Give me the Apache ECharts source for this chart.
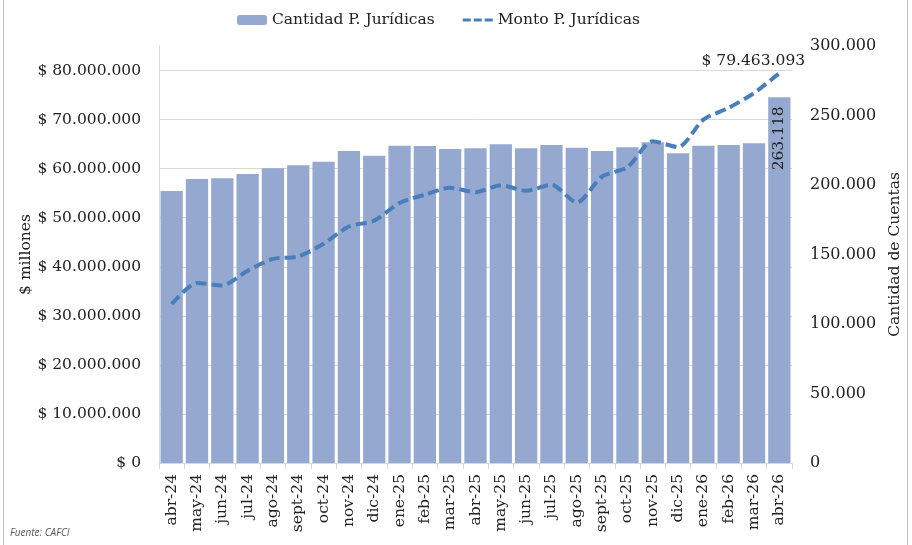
<!DOCTYPE html>
<html>
<head>
<meta charset="utf-8">
<script src="https://cdn.jsdelivr.net/npm/echarts@6/dist/echarts.min.js"></script>
<style>
  html, body { margin: 0; padding: 0; background: #fff; }
  #main { width: 912px; height: 545px; }
</style>
</head>
<body>
<div id="main"></div>
<script>
var meses = ['abr-24','may-24','jun-24','jul-24','ago-24','sept-24','oct-24','nov-24','dic-24','ene-25','feb-25','mar-25','abr-25','may-25','jun-25','jul-25','ago-25','sept-25','oct-25','nov-25','dic-25','ene-26','feb-26','mar-26','abr-26'];
// cantidad de cuentas (eje derecho)
var cantidad = [195700,204300,204800,207900,212000,214200,216800,224500,221100,228300,228000,225900,226400,229300,226400,228800,226800,224500,227100,230700,222800,228300,228800,230000,263118];
// monto en $ millones (eje izquierdo)
var monto = [32400000,36700000,36200000,39200000,41600000,42100000,44700000,48200000,49400000,53000000,54700000,56100000,55200000,56600000,55500000,56700000,53100000,58400000,60300000,65600000,64400000,70000000,72400000,75400000,79463093];

var serif = 'DejaVu Serif';
var txt = '#222';
var fs = 15.5;

function puntos(n) {
    return String(Math.round(n)).replace(/\B(?=(\d{3})+(?!\d))/g, '.');
}

var ultimo = meses.length - 1;
var barData = cantidad.map(function (v, i) {
    if (i !== ultimo) return v;
    return {
        value: v,
        label: {
            show: true, position: 'insideTop', rotate: 90, align: 'right', verticalAlign: 'middle',
            distance: 9, fontFamily: serif, fontSize: fs, color: txt,
            formatter: function (p) { return puntos(p.value); }
        }
    };
});
var lineData = monto.map(function (v, i) {
    if (i !== ultimo) return v;
    return {
        value: v,
        label: {
            show: true, position: 'top', offset: [-26, 1], fontFamily: serif, fontSize: fs, color: txt,
            formatter: function (p) { return '$ ' + puntos(p.value); }
        }
    };
});

var myChart = echarts.init(document.getElementById('main'));
var option = {
    animation: false,
    backgroundColor: '#fff',
    legend: {
        top: 7, left: 232,
        itemWidth: 30, itemHeight: 10, itemGap: 28,
        textStyle: { fontFamily: serif, fontSize: fs, color: txt },
        data: [
            { name: 'Cantidad P. Jurídicas' },
            { name: 'Monto P. Jurídicas', icon: 'path://M0,0H8V3H0Z M11,0H19V3H11Z M22,0H30V3H22Z', itemStyle: { color: '#4a7ebb' } }
        ]
    },
    grid: { left: 159, right: 120, top: 46, bottom: 82 },
    xAxis: {
        type: 'category',
        data: meses,
        axisLine: { lineStyle: { color: '#d9d9d9' } },
        axisTick: { show: true, length: 6, lineStyle: { color: '#d9d9d9' } },
        axisLabel: { rotate: 90, interval: 0, margin: 11, fontFamily: serif, fontSize: fs, color: txt }
    },
    yAxis: [
        {
            type: 'value', position: 'left',
            min: 0, max: 85000000, interval: 10000000,
            name: '$ millones', nameLocation: 'middle', nameGap: 125, nameRotate: 90,
            nameMoveOverlap: false,
            nameTextStyle: { fontFamily: serif, fontSize: fs, color: txt },
            axisLine: { show: true, lineStyle: { color: '#d9d9d9' } },
            axisTick: { show: false },
            splitLine: { show: true, showMaxLine: false, lineStyle: { color: '#d9d9d9' } },
            axisLabel: {
                margin: 18, showMaxLabel: false, fontFamily: serif, fontSize: fs, color: txt,
                formatter: function (v) { return '$ ' + puntos(v); }
            }
        },
        {
            type: 'value', position: 'right',
            min: 0, max: 300000, interval: 50000,
            name: 'Cantidad de Cuentas', nameLocation: 'middle', nameGap: 95, nameRotate: 90,
            nameMoveOverlap: false,
            nameTextStyle: { fontFamily: serif, fontSize: fs, color: txt },
            axisLine: { show: false },
            axisTick: { show: false },
            splitLine: { show: false },
            axisLabel: {
                margin: 18, fontFamily: serif, fontSize: 16, color: txt,
                formatter: function (v) { return puntos(v); }
            }
        }
    ],
    series: [
        {
            name: 'Cantidad P. Jurídicas',
            type: 'bar',
            yAxisIndex: 1,
            barCategoryGap: '12%',
            itemStyle: { color: '#95a9d0' },
            data: barData
        },
        {
            name: 'Monto P. Jurídicas',
            type: 'line',
            yAxisIndex: 0,
            smooth: 0.25,
            symbol: 'circle',
            symbolSize: 0,
            z: 5,
            lineStyle: { color: '#4a7ebb', width: 4, type: [11, 5] },
            itemStyle: { color: '#4a7ebb' },
            data: lineData
        }
    ],
    graphic: [
        { type: 'line', shape: { x1: 3.5, y1: 0, x2: 3.5, y2: 545 }, style: { stroke: '#bfbfbf', lineWidth: 1 } },
        { type: 'line', shape: { x1: 907.5, y1: 0, x2: 907.5, y2: 545 }, style: { stroke: '#bfbfbf', lineWidth: 1 } },
        {
            type: 'text', left: 10, top: 528,
            style: { text: 'Fuente: CAFCI', fontFamily: 'Open Sans', fontStyle: 'italic', fontSize: 10, fill: '#595959' }
        }
    ]
};

myChart.setOption(option);
</script>
</body>
</html>
